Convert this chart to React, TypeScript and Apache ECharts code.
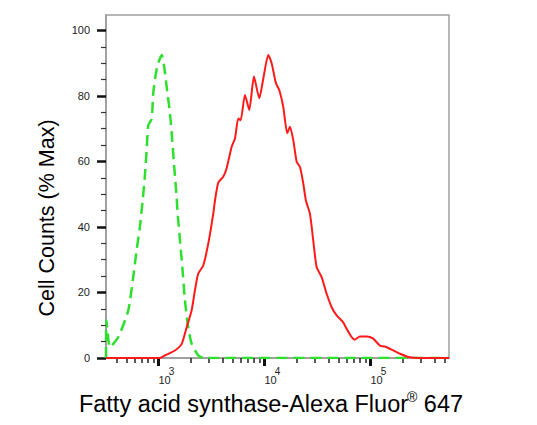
import React, { useEffect, useRef } from "react";
import * as echarts from "echarts";

// axis ranges (intensity on a log scale, % of max)
const xMin = 320;
const xMax = 551000;
const yMax = 104.7;

const xMajorTicks = [1000, 10000, 100000];
const xMinorTicks = [
  400, 500, 600, 700, 800, 900,
  2000, 3000, 4000, 5000, 6000, 7000, 8000, 9000,
  20000, 30000, 40000, 50000, 60000, 70000, 80000, 90000,
  200000, 300000, 400000, 500000,
];
const yMajorTicks = [0, 20, 40, 60, 80, 100];
const yMinorTicks = [5, 10, 15, 25, 30, 35, 45, 50, 55, 65, 70, 75, 85, 90, 95];

// isotype control (green, dashed)
const controlCurve = [
  [320, 0], [323, 11.5], [349, 3.3], [418, 6.4], [519, 14.5], [578, 24.7],
  [622, 32.9], [668, 40], [714, 49], [746, 56], [774, 63.5], [802, 71],
  [863, 73], [893, 80.8], [947, 87], [995, 90], [1075, 92.5], [1127, 89.4],
  [1195, 82.8], [1284, 74.7], [1349, 66.5], [1409, 58.3], [1485, 49],
  [1518, 44], [1596, 36], [1679, 27.8], [1778, 17.6], [1885, 10.5],
  [2055, 4.4], [2371, 0.8], [2700, 0], [551000, 0],
];

// Fatty acid synthase stained cells (red)
const sampleCurve = [
  [320, 0], [1033, 0], [1151, 0.8], [1432, 2.3], [1656, 4.3], [1846, 9.4],
  [2055, 14.5], [2208, 20.6], [2371, 25.7], [2648, 28.3], [2951, 34.9],
  [3289, 44], [3412, 48], [3664, 53.5], [4086, 55.3], [4397, 57.9],
  [4906, 64.5], [5272, 67], [5665, 73.1], [5961, 72.6], [6546, 80.3],
  [7190, 75.7], [7962, 85.9], [8933, 79.3], [9889, 86.4], [10860, 92.5],
  [11690, 90], [12830, 83.9], [13800, 81.8], [15040, 76.7], [16410, 68.6],
  [17410, 70.6], [18710, 66.5], [20140, 59.9], [21640, 58.3], [23240, 53.3],
  [24640, 48], [26880, 44], [28860, 35.9], [31050, 27.8], [34640, 24.7],
  [38640, 19.6], [43080, 15.5], [47990, 13], [55360, 10.9], [59570, 8.9],
  [66490, 6.4], [71450, 5.6], [79650, 6.6], [92060, 6.6], [106300, 5.9],
  [122900, 3.8], [142200, 3.3], [164100, 2.3], [189800, 1.3], [235900, 0.2],
  [293300, 0], [551000, 0],
];

const FONT = "Arial";

const FlowHistogram: React.FC = () => {
  const chartRef = useRef<HTMLDivElement>(null);

  useEffect(() => {
    document.body.style.margin = "0";
    if (!chartRef.current) return;
    const chart = echarts.init(chartRef.current, null, { renderer: "svg" });

    const option: echarts.EChartsOption = {
      animation: false,
      grid: {
        left: 106,
        right: 88,
        top: 15,
        bottom: 67,
        show: true,
        borderColor: "#a0a0a0",
        borderWidth: 1.5,
      },
      xAxis: [
        {
          type: "log",
          logBase: 10,
          min: xMin,
          max: xMax,
          splitLine: { show: false },
          axisLine: { lineStyle: { color: "#999", width: 1.5 } },
          axisTick: {
            customValues: xMajorTicks,
            length: 8,
            lineStyle: { color: "#111", width: 3 },
          },
          axisLabel: {
            customValues: xMajorTicks,
            align: "left",
            margin: 12,
            formatter: (v: number) => `{b|10}{s|${Math.round(Math.log10(v))}}`,
            rich: {
              b: { fontSize: 11, lineHeight: 11, color: "#222", fontFamily: FONT, padding: [8, 0, 0, 0] },
              s: { fontSize: 10, lineHeight: 10, color: "#222", fontFamily: FONT, padding: [0, 0, 9, -2] },
            },
          },
          name: "{n|Fatty acid synthase-Alexa Fluor}{r|®}{n| 647}",
          nameLocation: "middle",
          nameGap: 32,
          nameTextStyle: {
            padding: [0, 13, 0, 0],
            rich: {
              n: { fontSize: 23.5, lineHeight: 26, color: "#000", fontFamily: FONT, verticalAlign: "bottom" },
              r: { fontSize: 14, lineHeight: 14, color: "#000", fontFamily: FONT, verticalAlign: "top", padding: [0, 0, 10, -1] },
            },
          },
        },
        {
          type: "log",
          logBase: 10,
          min: xMin,
          max: xMax,
          position: "bottom",
          splitLine: { show: false },
          axisLine: { show: false },
          axisTick: {
            customValues: xMinorTicks,
            length: 5,
            lineStyle: { color: "#222", width: 1.5 },
          },
          axisLabel: { show: false },
        },
      ],
      yAxis: [
        {
          type: "value",
          min: 0,
          max: yMax,
          splitLine: { show: false },
          axisLine: { show: true, lineStyle: { color: "#999", width: 1.5 } },
          axisTick: {
            customValues: yMajorTicks,
            length: 9,
            lineStyle: { color: "#111", width: 2.5 },
          },
          axisLabel: {
            customValues: yMajorTicks,
            margin: 16,
            fontSize: 11,
            color: "#222",
            fontFamily: FONT,
          },
        },
        {
          type: "value",
          min: 0,
          max: yMax,
          position: "left",
          splitLine: { show: false },
          axisLine: { show: false },
          axisTick: {
            customValues: yMinorTicks,
            length: 5,
            lineStyle: { color: "#333", width: 1.2 },
          },
          axisLabel: { show: false },
        },
      ],
      graphic: [
        {
          type: "text",
          x: 47,
          y: 218,
          rotation: Math.PI / 2,
          style: {
            text: "Cell Counts (% Max)",
            fontSize: 21.5,
            fontFamily: FONT,
            fill: "#000",
            align: "center",
            verticalAlign: "middle",
          },
        },
      ],
      series: [
        {
          type: "line",
          xAxisIndex: 0,
          yAxisIndex: 0,
          data: controlCurve,
          showSymbol: false,
          smooth: 0.2,
          lineStyle: { color: "#2ee02e", width: 2.5, type: [11, 6] },
        },
        {
          type: "line",
          xAxisIndex: 0,
          yAxisIndex: 0,
          data: sampleCurve,
          showSymbol: false,
          smooth: 0.2,
          lineStyle: { color: "#ff1a1a", width: 2 },
        },
      ],
    };

    chart.setOption(option);
    return () => {
      chart.dispose();
    };
  }, []);

  return <div ref={chartRef} style={{ width: "537px", height: "425px" }} />;
};

export default function App() {
  return <FlowHistogram />;
}
